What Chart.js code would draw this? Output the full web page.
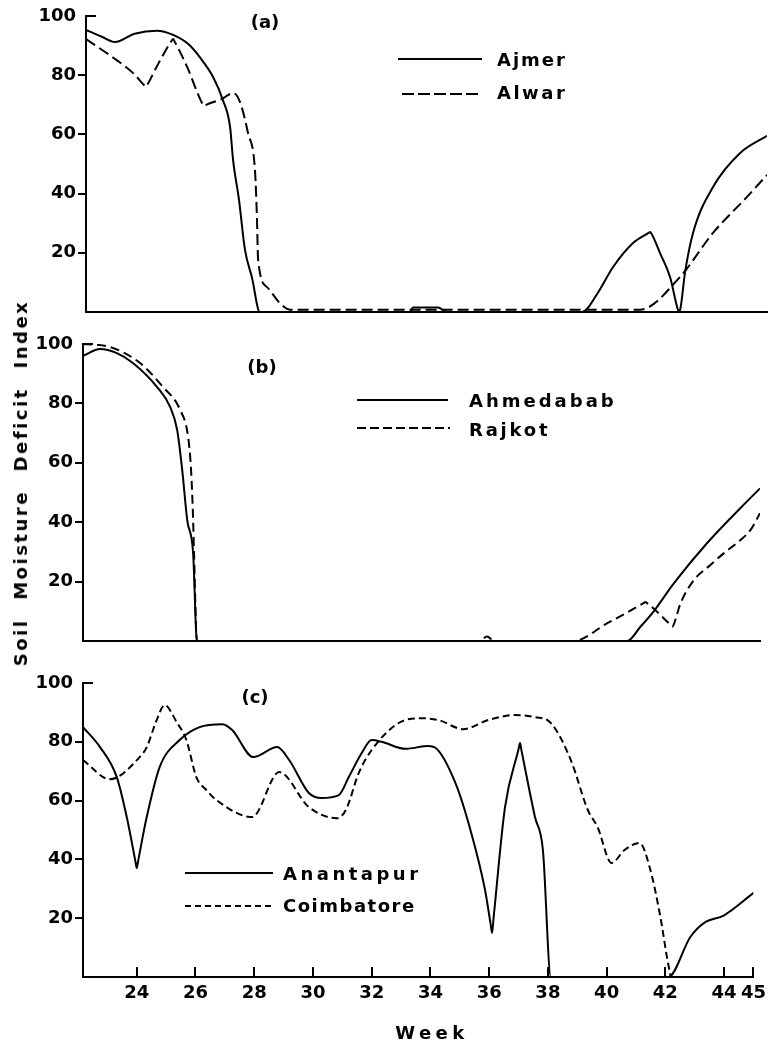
<!DOCTYPE html>
<html><head><meta charset="utf-8">
<script src="https://cdn.jsdelivr.net/npm/chart.js@4/dist/chart.umd.min.js"></script>
<style>
html,body{margin:0;padding:0;background:#fff;}
#wrap{position:relative;width:772px;height:1046px;overflow:hidden;font-family:"DejaVu Sans",sans-serif;font-weight:bold;color:#000;}
canvas{position:absolute;left:0;}
.t{position:absolute;white-space:nowrap;font-size:18px;line-height:1;transform:translateY(-50%);}
.c{transform:translate(-50%,-50%);}
.leg{position:absolute;height:2px;}
</style></head><body><div id="wrap">
<canvas id="ca" width="772" height="330" style="top:0px"></canvas>
<canvas id="cb" width="772" height="330" style="top:330px"></canvas>
<canvas id="cc" width="772" height="386" style="top:660px"></canvas>
<div id="labels"></div>
</div>
<script>
// ---- data ----
const xTickWeeks = [24, 26, 28, 30, 32, 34, 36, 38, 40, 42, 44, 45];
const yTickValues = [20, 40, 60, 80, 100];

const ajmerWeek  = [22.17,22.7,23.14,23.8,24.55,25.09,25.6,25.99,26.43,26.76,27.0,27.1,27.3,27.5,27.73,28.0,33.03,33.13,33.97,34.27,38.8,39.3,39.84,40.51,41.03,41.08,41.13,41.41,41.75,42.0,42.05,42.1,42.25,42.52,43.19,44.1,45.0];
const ajmerIndex = [95.3,93,91.2,94,95,93.6,90.5,86,79.4,71.6,62.5,51.4,37.8,21,11.8,0,0,1.5,1.5,0,0,6,15.2,23.3,26.7,27,26.4,20,11.8,1.2,0,1.3,13.2,26.7,42.2,53.7,59.5];

const alwarWeek  = [22.17,23.07,23.75,24.13,24.18,24.23,24.6,25.04,25.09,25.14,25.56,26.08,26.13,26.18,26.73,27.1,27.33,27.6,27.84,27.9,27.94,28.24,28.67,29.0,40.74,42.08,43.19,44.33,45.0];
const alwarIndex = [92.2,86,80.7,76.5,76,76.8,84,91.6,92.2,91.4,82.8,70.2,69.6,69.9,72,74,71,60.5,47,32,17.6,8.4,3,0.8,0.8,11.8,26.7,38.9,46.3];

const ahmedababWeek  = [22.17,22.75,23.3,23.86,24.68,25.12,25.36,25.53,25.7,25.9,26.03,40.6,41.05,41.5,42.18,43.31,44.44,45.1];
const ahmedababIndex = [96,98.3,97,93.6,85.5,78.8,71,57.6,40.7,29.6,0,0,4.8,10,19.4,33,44.8,51.4];

const rajkotWeek  = [22.17,23.08,24.1,24.88,25.46,25.73,25.83,25.9,25.93,26.03,35.6,35.85,36.1,38.78,39.93,41.17,41.22,41.27,42.08,42.13,42.18,42.41,42.86,43.42,43.87,44.44,44.78,45.1];
const rajkotIndex = [100,99,93.6,85.5,77.8,68.7,57.6,40.7,29.6,0,0,1.5,0,0,6,12.8,13.1,12.8,5.3,4.8,5.6,12.7,20.5,25.6,29.5,34,37.4,43];

const anantapurWeek  = [22.17,22.75,23.32,23.66,23.95,24.0,24.05,24.34,24.78,25.46,26.14,26.92,27.25,27.97,28.78,29.19,29.86,30.3,30.88,31.22,31.66,32.0,32.34,33.15,33.93,34.17,34.85,35.39,35.86,36.05,36.1,36.15,36.54,37.0,37.05,37.1,37.56,37.83,38.1,42.1,42.85,43.32,44.0,45.0];
const anantapurIndex = [85,78.2,68,54.4,39.6,37,39.6,54.4,71.4,80.6,85,86,84,74.8,78.2,73.8,62.6,60.9,61.9,68,76.2,80.6,80,77.6,78.6,78,66,49,29.6,18,15,20,57.8,77.5,79.6,77.1,54.4,43.2,0,0,13.6,18.4,21,28.6];

const coimbatoreWeek  = [22.17,23.08,24.1,24.34,24.68,24.95,25.36,25.69,26.03,26.37,26.71,27.93,28.85,29.86,30.81,31.12,31.56,32.0,32.92,33.7,34.27,35.12,35.97,36.88,37.56,38.1,38.78,39.36,39.69,40.17,40.61,41.12,41.49,41.83,42.07,42.17];
const coimbatoreIndex = [73.8,67.3,74.8,78.2,87.4,92.5,86.7,80.6,68,63.6,60.2,54.4,69.7,57.8,54,56.8,69.4,77.2,86.4,88,87.4,84.3,87.4,89.1,88.4,86.4,73.8,56.8,51,38.8,43.2,45.6,36.4,20.4,5.8,0.7];

const XMIN = 22.17;
const FONT = {family: "DejaVu Sans", size: 18, weight: "bold"};

function pts(w, v) { return w.map((x, i) => ({x: x, y: v[i]})); }
function ds(label, w, v, dash) {
  return {label, data: pts(w, v), borderColor: '#000', borderWidth: 2, borderDash: dash,
    pointRadius: 0, fill: false, cubicInterpolationMode: 'monotone'};
}

const inwardTicks = {
  id: 'inwardTicks',
  afterDraw(chart, args, o) {
    const ctx = chart.ctx, a = chart.chartArea, y = chart.scales.y, x = chart.scales.x;
    ctx.save();
    ctx.strokeStyle = '#000'; ctx.lineWidth = 2;
    const py = y.getPixelForValue(100);
    ctx.beginPath(); ctx.moveTo(a.left - 1, py); ctx.lineTo(a.left + 10, py); ctx.stroke();
    if (o.xTicks) {
      for (const w of xTickWeeks) {
        const px = Math.round(x.getPixelForValue(w));
        ctx.beginPath(); ctx.moveTo(px, a.bottom); ctx.lineTo(px, a.bottom - 10); ctx.stroke();
      }
    }
    ctx.restore();
  }
};

function makeChart(id, datasets, lay, showX) {
  new Chart(document.getElementById(id), {
    type: 'line',
    data: {datasets},
    plugins: [inwardTicks],
    options: {
      responsive: false, animation: false, devicePixelRatio: 1,
      layout: {padding: {left: 0, right: 772 - lay.right, top: lay.top, bottom: lay.bottom}},
      plugins: {legend: {display: false}, tooltip: {enabled: false}, inwardTicks: {xTicks: showX}},
      scales: {
        x: {
          type: 'linear', min: XMIN, max: lay.xmax,
          grid: {display: false, drawTicks: false},
          border: {display: true, color: '#000', width: 2},
          afterBuildTicks: s => { s.ticks = xTickWeeks.map(v => ({value: v})); },
          ticks: {display: showX, font: FONT, color: '#000', padding: 6, maxRotation: 0, autoSkip: false,
                  callback: v => String(v)},
          afterFit: s => { s.height = showX ? 30 : 0; }
        },
        y: {
          min: 0, max: 100,
          afterBuildTicks: s => { s.ticks = yTickValues.map(v => ({value: v})); },
          grid: {display: true, drawOnChartArea: false, drawTicks: true, tickLength: 8, lineWidth: 2,
                 color: c => (c.tick && c.tick.value === 100) ? 'rgba(0,0,0,0)' : '#000'},
          border: {display: true, color: '#000', width: 2},
          ticks: {font: FONT, color: '#000', padding: 2},
          afterFit: s => { s.width = lay.left; }
        }
      }
    }
  });
}

makeChart('ca', [ds('Ajmer', ajmerWeek, ajmerIndex, []), ds('Alwar', alwarWeek, alwarIndex, [11, 5])],
  {left: 86, right: 767, top: 16, bottom: 18, xmax: 45}, false);
makeChart('cb', [ds('Ahmedabab', ahmedababWeek, ahmedababIndex, []), ds('Rajkot', rajkotWeek, rajkotIndex, [9, 5])],
  {left: 83, right: 760, top: 14, bottom: 19, xmax: 45.1}, false);
makeChart('cc', [ds('Anantapur', anantapurWeek, anantapurIndex, []), ds('Coimbatore', coimbatoreWeek, coimbatoreIndex, [7, 4])],
  {left: 83, right: 757, top: 23, bottom: 39, xmax: 45}, true);

// ---- text & legends ----
const L = document.getElementById('labels');
function txt(s, x, y, cls, extra) {
  const d = document.createElement('div');
  d.className = 't ' + (cls || ''); d.textContent = s;
  d.style.left = x + 'px'; d.style.top = y + 'px';
  if (extra) Object.assign(d.style, extra);
  L.appendChild(d); return d;
}
function legLine(x1, x2, y, dash) {
  const d = document.createElement('div');
  d.className = 'leg';
  d.style.left = x1 + 'px'; d.style.width = (x2 - x1) + 'px'; d.style.top = (y - 1) + 'px';
  d.style.background = dash ? `repeating-linear-gradient(to right,#000 0 ${dash[0]}px,transparent ${dash[0]}px ${dash[0]+dash[1]}px)` : '#000';
  L.appendChild(d);
}
txt('(a)', 265, 22, 'c');
txt('(b)', 262, 367, 'c');
txt('(c)', 255, 697, 'c');

legLine(398, 482, 59); txt('Ajmer', 497, 60, '', {letterSpacing: '2px'});
legLine(402, 480, 94, [12, 4]); txt('Alwar', 497, 93, '', {letterSpacing: '2.5px'});
legLine(357, 448, 400); txt('Ahmedabab', 469, 401, '', {letterSpacing: '3px'});
legLine(357, 450, 428, [9, 4]); txt('Rajkot', 469, 430, '', {letterSpacing: '2.8px'});
legLine(185, 273, 873); txt('Anantapur', 283, 874, '', {letterSpacing: '3.5px'});
legLine(185, 273, 906, [6, 4]); txt('Coimbatore', 283, 906, '', {letterSpacing: '1.5px'});

txt('Week', 432, 1033, 'c', {letterSpacing: '4.5px'});
txt('Soil Moisture Deficit Index', 21, 483, '', {letterSpacing: '2.5px', wordSpacing: '10px',
  transform: 'translate(-50%,-50%) rotate(-90deg)'});
</script>
</body></html>
